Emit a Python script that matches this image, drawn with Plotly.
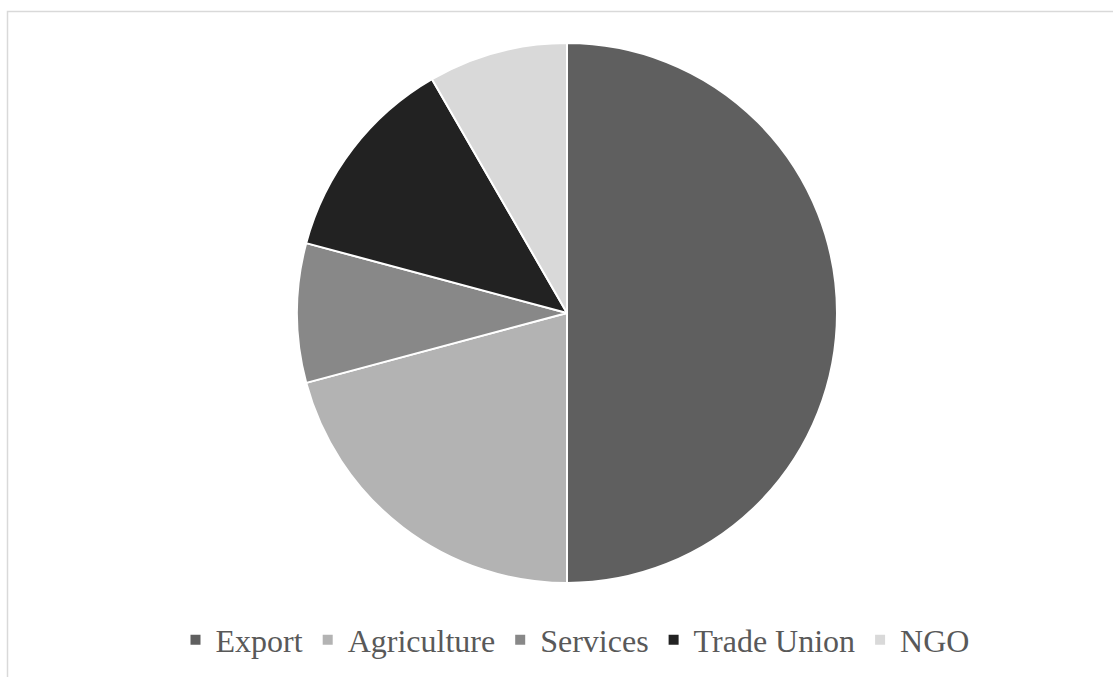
import plotly.graph_objects as go

categories = ["Export", "Agriculture", "Services", "Trade Union", "NGO"]
values = [12, 5, 2, 3, 2]
colors = ["#5f5f5f", "#b3b3b3", "#888888", "#222222", "#d9d9d9"]

W, H = 1113, 677
cx, cy, r = 567, 313, 270

fig = go.Figure(go.Pie(
    labels=categories,
    values=values,
    sort=False,
    direction="clockwise",
    rotation=0,
    textinfo="none",
    hoverinfo="label+percent",
    marker=dict(colors=colors, line=dict(color="white", width=2)),
    domain=dict(x=[(cx - r) / W, (cx + r) / W], y=[1 - (cy + r) / H, 1 - (cy - r) / H]),
))

fig.update_layout(
    width=W, height=H,
    margin=dict(l=0, r=0, t=0, b=0),
    paper_bgcolor="white",
    showlegend=True,
    legend=dict(
        orientation="h",
        x=575 / W, xanchor="center",
        y=1 - 640 / H, yanchor="middle",
        font=dict(family="Liberation Serif", size=32, color="#595959"),
        bgcolor="rgba(0,0,0,0)",
    ),
    shapes=[dict(
        type="rect", xref="paper", yref="paper",
        x0=7.5 / W, x1=1.02, y0=-0.02, y1=1 - 11.5 / H,
        line=dict(color="#d9d9d9", width=1.5),
        fillcolor="rgba(0,0,0,0)", layer="below",
    )],
)

fig.write_html("out.html")
